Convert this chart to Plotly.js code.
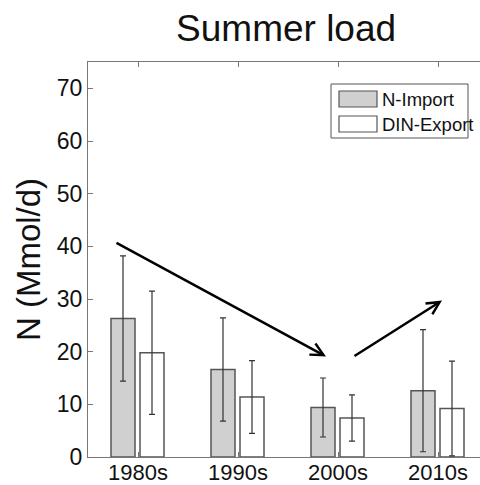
<!DOCTYPE html>
<html>
<head>
<meta charset="utf-8">
<script src="https://cdn.plot.ly/plotly-3.0.1.min.js"></script>
<style>html,body{margin:0;padding:0;background:#fff;}#chart{width:480px;height:485px;}</style>
</head>
<body>
<div id="chart"></div>
<script>
const categories = ["1980s", "1990s", "2000s", "2010s"];
const importValues = [26.3, 16.6, 9.4, 12.6];
const importErrors = [11.9, 9.8, 5.6, 11.6];
const exportValues = [19.8, 11.4, 7.4, 9.2];
const exportErrors = [11.7, 6.9, 4.4, 9.0];
const seriesNames = ["N-Import", "DIN-Export"];
const yTicks = [0, 10, 20, 30, 40, 50, 60, 70];
// trend arrows: [tailX, tailY, tipX, tipY] in data units
const arrowDown = [-0.23, 40.8, 1.88, 19.1];
const arrowUp = [2.15, 19.0, 3.04, 29.7];

const FONT = "Arial, 'Liberation Sans', sans-serif";

const traces = [
  {
    type: "bar", name: seriesNames[0], x: categories, y: importValues,
    width: 0.24, offset: -0.27,
    marker: {color: "#d0d0d0", line: {color: "#555555", width: 1.5}},
    error_y: {type: "data", array: importErrors, visible: true, color: "#333333", thickness: 1.2, width: 3},
    showlegend: false
  },
  {
    type: "bar", name: seriesNames[1], x: categories, y: exportValues,
    width: 0.24, offset: 0.02,
    marker: {color: "#ffffff", line: {color: "#555555", width: 1.5}},
    error_y: {type: "data", array: exportErrors, visible: true, color: "#333333", thickness: 1.2, width: 3},
    showlegend: false
  }
];

function arrow(a) {
  return {
    x: a[2], y: a[3], ax: a[0], ay: a[1], xref: "x", yref: "y", axref: "x", ayref: "y",
    showarrow: true, arrowhead: 5, arrowsize: 1, arrowwidth: 2.5, arrowcolor: "#000000",
    standoff: 0, startstandoff: 0, text: ""
  };
}

function px(v) { return (v - 88) / 392; }
function py(v) { return (457 - v) / 395; }

const shapes = [
  {type: "rect", xref: "paper", yref: "paper", x0: px(331), x1: px(468), y0: py(138), y1: py(84),
   line: {color: "#555555", width: 1}, fillcolor: "#ffffff", layer: "above"},
  {type: "rect", xref: "paper", yref: "paper", x0: px(339), x1: px(377), y0: py(107), y1: py(91),
   line: {color: "#555555", width: 1.2}, fillcolor: "#d0d0d0", layer: "above"},
  {type: "rect", xref: "paper", yref: "paper", x0: px(339), x1: px(377), y0: py(132), y1: py(116),
   line: {color: "#555555", width: 1.2}, fillcolor: "#ffffff", layer: "above"}
];

const annotations = [
  arrow(arrowDown), arrow(arrowUp),
  {xref: "paper", yref: "paper", x: px(380), y: py(99.5), xanchor: "left", yanchor: "middle",
   text: seriesNames[0], showarrow: false, font: {family: FONT, size: 18.5, color: "#111111"}},
  {xref: "paper", yref: "paper", x: px(380), y: py(124.5), xanchor: "left", yanchor: "middle",
   text: seriesNames[1], showarrow: false, font: {family: FONT, size: 18.5, color: "#111111"}}
];

const layout = {
  width: 480, height: 485,
  margin: {l: 88, r: 0, t: 62, b: 28, pad: 0},
  paper_bgcolor: "#ffffff", plot_bgcolor: "#ffffff",
  font: {family: FONT, color: "#111111"},
  title: {text: "Summer load", font: {family: FONT, size: 37, color: "#111111"},
          xref: "container", x: 0.596, xanchor: "center", yref: "container", y: 1 - 28 / 485, yanchor: "middle"},
  barmode: "group",
  showlegend: false,
  xaxis: {
    type: "category", range: [-0.5, 3.42], showgrid: false, zeroline: false,
    showline: true, linecolor: "#777777", linewidth: 1, mirror: "allticks",
    ticks: "inside", ticklen: 5, tickcolor: "#777777", ticklabelstandoff: -4,
    tickfont: {family: FONT, size: 22, color: "#111111"}
  },
  yaxis: {
    range: [0, 75], tickvals: yTicks, showgrid: false, zeroline: false,
    showline: true, linecolor: "#777777", linewidth: 1,
    ticks: "inside", ticklen: 5, tickcolor: "#777777",
    tickfont: {family: FONT, size: 23, color: "#111111"},
    title: {text: "N (Mmol/d)", font: {family: FONT, size: 33, color: "#111111"}, standoff: 6}
  },
  shapes: shapes,
  annotations: annotations
};

Plotly.newPlot("chart", traces, layout, {staticPlot: true, displayModeBar: false});
</script>
</body>
</html>
